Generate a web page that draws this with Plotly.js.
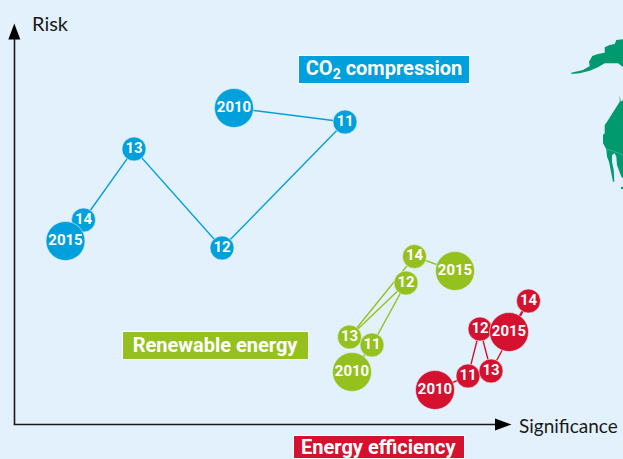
<!DOCTYPE html>
<html>
<head>
<meta charset="utf-8">
<script src="https://cdn.plot.ly/plotly-3.0.1.min.js"></script>
<style>html,body{margin:0;padding:0;background:#e3f1fc;overflow:hidden}#c{width:623px;height:459px}</style>
</head>
<body>
<div id="c"></div>
<script>
var years = ['2010','11','12','13','14','2015'];
var co2Significance = [234, 345, 222, 134, 83.5, 65.5];
var co2Risk = [351, 337, 211, 310, 239, 218];
var renewSignificance = [352, 372, 406, 349.5, 414.5, 455];
var renewRisk = [87, 114, 176, 122, 202.5, 188];
var effSignificance = [435, 468, 480, 491, 528.5, 509];
var effRisk = [69, 83, 130, 88, 158, 127];
var sizes = [39, 24, 24, 24, 24, 39];

var BG = '#e3f1fc', BLUE = '#00a0dc', GREEN = '#95c11f', RED = '#d4112f', MAP = '#009a6e';
var FONT = 'Roboto';
var LABEL = 'Lato';

var mapX = [571.3,583,589.7,589,592.3,598,604.7,604.7,609.7,614.7,616.3,623,623,618,614.7,609.7,604.7,598,589.7,579.7,571.3,null,
  619.7,620.7,623,623,621.3,617,616.3,614.7,612,612,613.7,614.3,613,611.3,609,607,606.3,603,603,604.7,604.7,607,611.3,616.3,619.7,null,
  621,623,623,621];
var mapY = [386.3,389,393,397.3,403,405,406.3,411.7,414,415,419,419.7,392,395.7,395.7,395.7,395.7,391.7,388.3,385.7,385,null,
  364,357.3,359,281,282.3,294,302.3,305.7,304,297.3,289,277.3,277.3,287.3,297.3,302.3,309.7,315.7,324,325.7,334,337.3,344,350.7,357.3,null,
  271.7,272.5,270,270];
var borderX = [606.5, 613, 623];
var borderY = [310, 308, 304];

function series(x, y, color) {
  return {
    type: 'scatter', mode: 'lines+markers+text', x: x, y: y, text: years,
    textposition: 'middle center', cliponaxis: false, hoverinfo: 'skip',
    line: {color: color, width: 1.4},
    marker: {color: color, size: sizes, opacity: 1, line: {color: BG, width: 0.6}},
    textfont: {family: FONT, size: 15, color: '#fff', weight: 700}
  };
}
var traces = [
  {type: 'scatter', mode: 'lines', x: mapX, y: mapY, fill: 'toself', fillcolor: MAP,
   line: {width: 0, color: MAP}, hoverinfo: 'skip'},
  {type: 'scatter', mode: 'lines', x: borderX, y: borderY,
   line: {width: 0.5, color: '#6cc3a6'}, hoverinfo: 'skip'},
  series(co2Significance, co2Risk, BLUE),
  series(renewSignificance, renewRisk, GREEN),
  series(effSignificance, effRisk, RED)
];

function box(text, x0, x1, y0, y1, color) {
  return {
    xref: 'x', yref: 'y', x: (x0 + x1) / 2, y: (y0 + y1) / 2, xanchor: 'center', yanchor: 'middle',
    showarrow: false, text: '<b>' + text + '</b>', width: x1 - x0 - 2, height: y1 - y0 - 2,
    bgcolor: color, bordercolor: '#ffffff', borderwidth: 1, borderpad: 0, align: 'center', valign: 'middle',
    font: {family: FONT, size: 20, color: '#fff'}
  };
}
var layout = {
  width: 623, height: 459, margin: {l: 0, r: 0, t: 0, b: 0},
  paper_bgcolor: BG, plot_bgcolor: BG, showlegend: false,
  xaxis: {range: [0, 623], visible: false, fixedrange: true},
  yaxis: {range: [0, 459], visible: false, fixedrange: true},
  shapes: [
    {type: 'line', xref: 'x', yref: 'y', x0: 14.5, x1: 14.5, y0: 34.5, y1: 422, line: {color: '#1a1a1a', width: 1.6}},
    {type: 'line', xref: 'x', yref: 'y', x0: 13.7, x1: 497, y0: 34.5, y1: 34.5, line: {color: '#1a1a1a', width: 1.6}},
    {type: 'path', xref: 'x', yref: 'y', path: 'M 8.3 419.5 L 20.3 419.5 L 14.3 435.5 Z', fillcolor: '#000', line: {width: 0}},
    {type: 'path', xref: 'x', yref: 'y', path: 'M 495 40.5 L 495 28.5 L 511.5 34.5 Z', fillcolor: '#000', line: {width: 0}}
  ],
  annotations: [
    box('CO<sub>2</sub> compression', 298, 470, 375, 403.5, BLUE),
    box('Renewable energy', 121.7, 308.7, 99.7, 128.3, GREEN),
    box('Energy efficiency', 293, 464.5, 0, 24, RED),
    {xref: 'x', yref: 'y', x: 29.5, y: 436, xanchor: 'left', yanchor: 'middle', showarrow: false, text: 'Risk',
     font: {family: LABEL, size: 20, color: '#1a1a1a'}},
    {xref: 'x', yref: 'y', x: 517, y: 34, xanchor: 'left', yanchor: 'middle', showarrow: false, text: 'Significance',
     font: {family: LABEL, size: 19, color: '#1a1a1a'}}
  ]
};
Plotly.newPlot('c', traces, layout, {displayModeBar: false, staticPlot: true});
</script>
</body>
</html>
